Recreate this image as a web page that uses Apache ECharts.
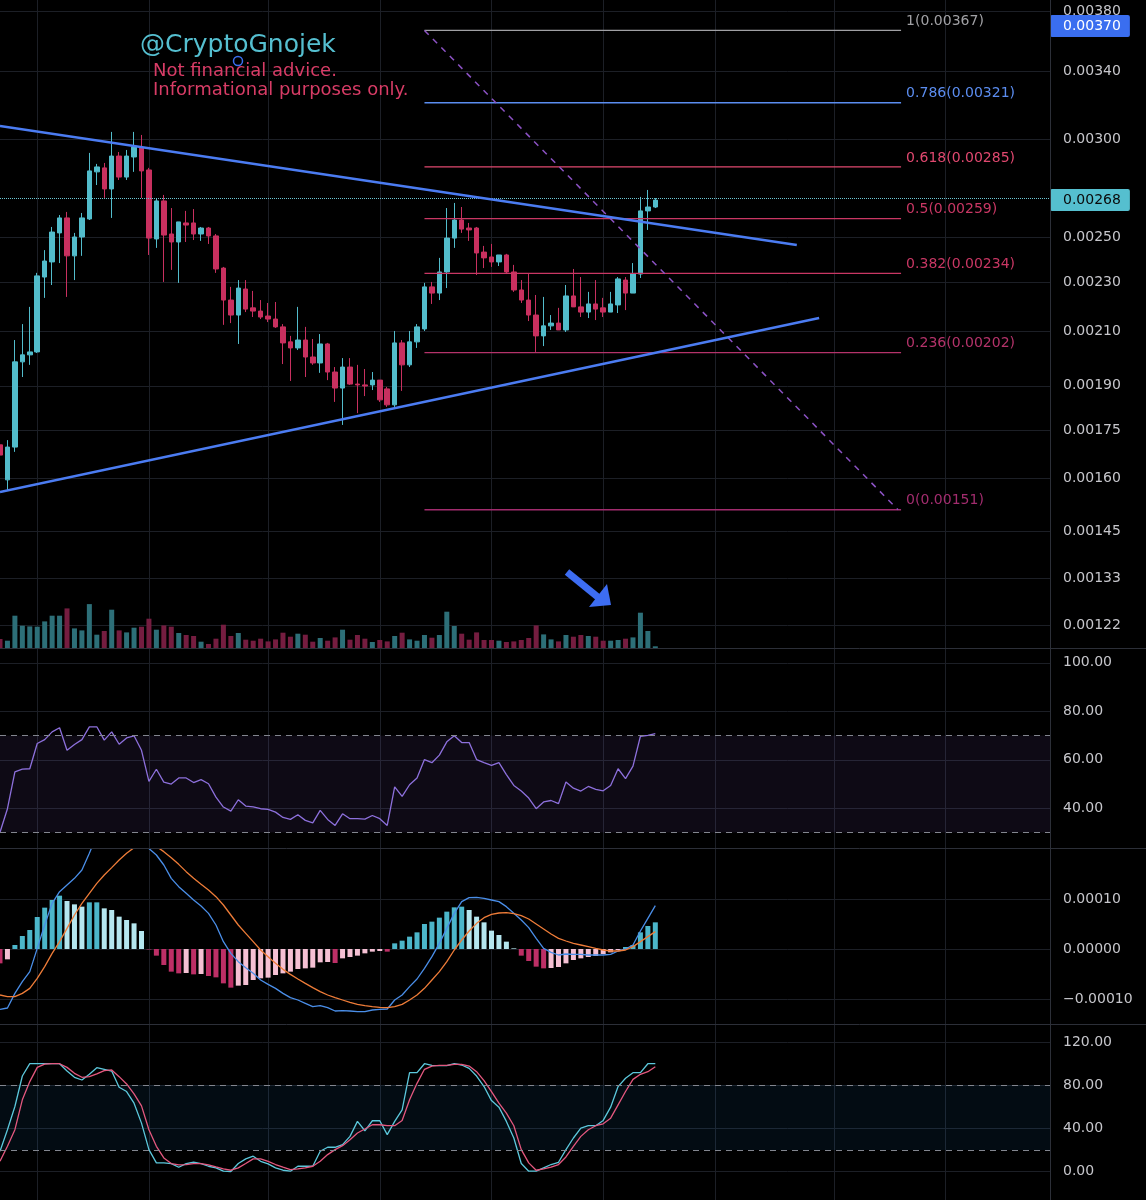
<!DOCTYPE html>
<html><head><meta charset="utf-8">
<script src="https://cdn.jsdelivr.net/npm/echarts@6/dist/echarts.min.js"></script>
<style>html,body{margin:0;padding:0;background:#000;}#c{width:1146px;height:1200px;}</style>
</head><body><div id="c"></div>
<script>
// ---------------- DATA ----------------
const opens = [0.001703,0.001596,0.001696,0.001986,0.002012,0.002023,0.002324,0.002390,0.002522,0.002593,
 0.002417,0.002503,0.002588,0.002824,0.002845,0.002736,0.002908,0.002797,0.002903,0.002952,
 0.002834,0.002494,0.002676,0.002517,0.002480,0.002569,0.002569,0.002517,0.002545,0.002508,
 0.002363,0.002227,0.002166,0.002273,0.002195,0.002182,0.002162,0.002150,0.002119,0.002061,
 0.002038,0.002068,0.002004,0.001982,0.002053,0.001949,0.001892,0.001967,0.001906,0.001903,
 0.001903,0.001920,0.001889,0.001834,0.002057,0.001975,0.002061,0.002111,0.002282,0.002256,
 0.002346,0.002498,0.002583,0.002545,0.002545,0.002434,0.002412,0.002390,0.002421,0.002346,
 0.002269,0.002227,0.002166,0.002084,0.002123,0.002134,0.002107,0.002244,0.002199,0.002178,
 0.002211,0.002195,0.002178,0.002207,0.002311,0.002256,0.002337,0.002627,0.002646];
const highs = [0.001718,0.001718,0.002068,0.002130,0.002199,0.002342,0.002443,0.002550,0.002607,0.002622,
 0.002522,0.002617,0.002925,0.002866,0.002871,0.003041,0.002930,0.002941,0.003041,0.003024,
 0.002845,0.002686,0.002706,0.002641,0.002574,0.002627,0.002636,0.002550,0.002550,0.002517,
 0.002368,0.002282,0.002311,0.002311,0.002265,0.002227,0.002215,0.002219,0.002130,0.002084,
 0.002199,0.002119,0.002072,0.002091,0.002057,0.001967,0.002000,0.002000,0.001975,0.001960,
 0.001949,0.001920,0.001896,0.002103,0.002068,0.002103,0.002130,0.002299,0.002303,0.002408,
 0.002641,0.002666,0.002646,0.002569,0.002550,0.002462,0.002471,0.002421,0.002426,0.002377,
 0.002311,0.002337,0.002248,0.002240,0.002166,0.002195,0.002290,0.002359,0.002324,0.002261,
 0.002311,0.002236,0.002261,0.002324,0.002324,0.002385,0.002696,0.002731,0.002690];
const lows = [0.001662,0.001566,0.001681,0.001931,0.001975,0.002019,0.002236,0.002290,0.002385,0.002240,
 0.002311,0.002417,0.002583,0.002756,0.002691,0.002593,0.002782,0.002782,0.002824,0.002691,
 0.002421,0.002453,0.002303,0.002355,0.002299,0.002480,0.002489,0.002485,0.002471,0.002342,
 0.002127,0.002134,0.002053,0.002178,0.002158,0.002150,0.002138,0.002115,0.001978,0.001917,
 0.002030,0.001931,0.001975,0.001946,0.001920,0.001844,0.001767,0.001903,0.001806,0.001864,
 0.001885,0.001844,0.001827,0.001827,0.001882,0.001967,0.002038,0.002103,0.002211,0.002227,
 0.002277,0.002453,0.002522,0.002485,0.002333,0.002363,0.002368,0.002372,0.002337,0.002261,
 0.002215,0.002142,0.002023,0.002045,0.002107,0.002107,0.002099,0.002199,0.002158,0.002154,
 0.002146,0.002158,0.002178,0.002174,0.002186,0.002256,0.002320,0.002536,0.002641];
const closes = [0.001671,0.001696,0.001986,0.002012,0.002023,0.002329,0.002394,0.002526,0.002593,0.002417,
 0.002503,0.002593,0.002829,0.002850,0.002736,0.002908,0.002797,0.002908,0.002957,0.002829,
 0.002498,0.002676,0.002512,0.002480,0.002574,0.002559,0.002517,0.002545,0.002508,0.002359,
 0.002227,0.002166,0.002277,0.002190,0.002182,0.002158,0.002150,0.002119,0.002057,0.002038,
 0.002068,0.002004,0.001982,0.002053,0.001949,0.001892,0.001967,0.001906,0.001903,0.001899,
 0.001920,0.001851,0.001834,0.002057,0.001975,0.002061,0.002119,0.002282,0.002256,0.002346,
 0.002498,0.002583,0.002540,0.002536,0.002430,0.002408,0.002390,0.002421,0.002346,0.002269,
 0.002227,0.002166,0.002084,0.002123,0.002134,0.002107,0.002244,0.002199,0.002178,0.002211,
 0.002190,0.002178,0.002211,0.002316,0.002256,0.002337,0.002627,0.002646,0.002680];
const volumes = [9.0,7.3,32.3,22.3,21.6,21.3,26.6,32.3,32.3,39.6,
 19.6,17.6,43.9,13.3,17,38.3,17.6,15.6,20.3,21.3,
 29.3,18.3,22.6,21.3,15,13,12,6.3,4,9.3,
 23.3,12,15,8.3,7.3,9.3,6.6,8.6,15.3,11.3,
 14.3,13.3,6.3,10,7.3,10.6,18.3,8.3,13,9.3,
 6,8,6.6,12,15.3,8.6,7.3,13,10.3,13,
 36.3,22,14.3,8.3,15.6,8,8,7.3,6,6.6,
 8,10,22.6,13.6,8.6,6.6,13,11.3,13,12,
 11.3,7.3,7.3,8,9.3,10.6,35.3,17,1.7];
const rsi = [30.1,39.8,55,56.1,56.3,66.7,68.3,71.5,73.2,63.9,
 66.3,68.3,73.6,73.6,68.1,71.5,66.4,69,69.9,63.9,
 51.1,56.1,50.8,50,52.5,52.5,50.6,51.8,50.1,44.6,
 40.5,38.8,43.5,40.9,40.6,39.8,39.5,38.4,36.2,35.4,
 37.3,35,34,39.1,35.4,32.9,37.7,35.7,35.7,35.5,
 37,35.7,32.9,48.8,44.9,49.7,52.5,60.1,58.8,61.9,
 67.4,69.9,67.1,67.1,60.1,58.8,57.7,58.8,53.9,49.4,
 47.1,44.2,39.8,42.6,43.2,41.9,50.8,48.3,47.1,49,
 47.8,47.2,49.4,56.3,52.2,57.4,69.7,70.1,70.8];
const macdLine = [-12.07e-5,-11.8e-5,-8.87e-5,-6.53e-5,-4.53e-5,0.13e-5,4.8e-5,9.13e-5,11.47e-5,12.8e-5,
 14.13e-5,15.8e-5,19.13e-5,22.8e-5,25e-5,26.5e-5,27e-5,26.5e-5,25e-5,23e-5,
 20.1e-5,18.8e-5,16.8e-5,14.13e-5,12.47e-5,11.13e-5,9.8e-5,8.6e-5,7.13e-5,4.8e-5,
 1.47e-5,-0.87e-5,-2.53e-5,-3.73e-5,-4.87e-5,-6.2e-5,-7.07e-5,-7.87e-5,-8.87e-5,-9.73e-5,
 -10.2e-5,-10.87e-5,-11.53e-5,-11.33e-5,-11.73e-5,-12.4e-5,-12.33e-5,-12.4e-5,-12.53e-5,-12.53e-5,
 -12.2e-5,-12.07e-5,-12.0e-5,-10.2e-5,-9.2e-5,-7.53e-5,-6.0e-5,-3.87e-5,-1.53e-5,1.13e-5,
 4.13e-5,7.13e-5,9.47e-5,10.27e-5,10.33e-5,10.13e-5,9.8e-5,9.47e-5,8.47e-5,7.13e-5,
 5.8e-5,4.27e-5,2.13e-5,0.13e-5,-0.67e-5,-1.2e-5,-1.0e-5,-1.07e-5,-1.07e-5,-1.2e-5,
 -1.2e-5,-1.2e-5,-1.07e-5,-0.4e-5,0,0.8e-5,3.6e-5,6.13e-5,8.67e-5];
const macdSignal = [-9.2e-5,-9.53e-5,-9.53e-5,-8.87e-5,-7.87e-5,-5.87e-5,-3.53e-5,-0.87e-5,1.47e-5,4.13e-5,
 6.8e-5,9.13e-5,11.13e-5,13.13e-5,14.8e-5,16.27e-5,17.8e-5,19.13e-5,20.27e-5,21e-5,
 21.2e-5,20.5e-5,19.47e-5,18.27e-5,16.93e-5,15.47e-5,14.13e-5,12.93e-5,11.8e-5,10.47e-5,
 8.8e-5,6.8e-5,4.8e-5,3.13e-5,1.47e-5,-0.2e-5,-1.53e-5,-2.87e-5,-4.07e-5,-5.07e-5,
 -6.0e-5,-6.87e-5,-7.73e-5,-8.53e-5,-9.2e-5,-9.73e-5,-10.2e-5,-10.67e-5,-11.07e-5,-11.33e-5,
 -11.53e-5,-11.67e-5,-11.73e-5,-11.53e-5,-11.07e-5,-10.2e-5,-9.2e-5,-7.87e-5,-6.2e-5,-4.53e-5,
 -2.53e-5,-0.2e-5,1.8e-5,3.6e-5,5.13e-5,6.27e-5,6.93e-5,7.2e-5,7.27e-5,7.07e-5,
 6.67e-5,6.0e-5,5.0e-5,4.0e-5,3.0e-5,2.13e-5,1.6e-5,1.13e-5,0.8e-5,0.47e-5,
 0.13e-5,-0.2e-5,-0.4e-5,-0.4e-5,-0.2e-5,0.47e-5,1.47e-5,2.47e-5,3.47e-5];
const macdHist = [-2.87e-5,-2.07e-5,0.8e-5,2.6e-5,3.8e-5,6.4e-5,8.27e-5,9.8e-5,10.67e-5,9.6e-5,
 8.93e-5,8.47e-5,9.33e-5,9.33e-5,8.13e-5,7.8e-5,6.47e-5,5.8e-5,5.13e-5,3.6e-5,
 -0.1e-5,-1.33e-5,-3.2e-5,-4.53e-5,-4.87e-5,-4.8e-5,-5.07e-5,-5.0e-5,-5.4e-5,-5.67e-5,
 -6.87e-5,-7.73e-5,-7.33e-5,-7.2e-5,-6.2e-5,-5.87e-5,-5.73e-5,-5.2e-5,-4.87e-5,-4.53e-5,
 -4.0e-5,-3.87e-5,-3.73e-5,-2.67e-5,-2.6e-5,-2.8e-5,-1.87e-5,-1.6e-5,-1.33e-5,-0.87e-5,
 -0.53e-5,-0.4e-5,-0.53e-5,1.13e-5,1.67e-5,2.47e-5,3.33e-5,5.0e-5,5.47e-5,6.27e-5,
 7.47e-5,8.33e-5,8.47e-5,7.8e-5,6.47e-5,5.33e-5,3.67e-5,2.8e-5,1.47e-5,0.13e-5,
 -1.33e-5,-2.4e-5,-3.53e-5,-3.87e-5,-3.8e-5,-3.6e-5,-2.87e-5,-2.2e-5,-1.87e-5,-1.6e-5,
 -1.4e-5,-1.0e-5,-0.67e-5,-0.2e-5,0.4e-5,0.8e-5,3.33e-5,4.6e-5,5.33e-5];
const stochK = [18.8,38.8,60.3,88.6,100,100,100,100,100,93.2,
 87.4,84.9,90.2,96.3,94.8,93.2,78.2,74.2,63.4,44.9,
 20.3,8,8,7.4,4,7.4,8.6,7.4,4.9,3.4,
 0.3,0,7.4,11.7,14.2,9.5,7.1,3.4,1.2,0.3,
 4.9,4.9,4.9,18.8,22.5,22.5,24.9,32.6,46.5,37.8,
 47.1,47.1,34.2,46.5,57.2,91.7,91.7,100,98.5,98.2,
 98.2,100,98.8,95.7,88.6,78.8,65.8,59.7,46.5,31.1,
 7.4,0.3,0.3,3.4,6.5,8.6,20.3,31.1,40.3,42.5,
 42.5,47.4,59.7,78.8,86.5,91.7,91.7,100,100];
const stochD = [9.5,23.4,38.8,66.5,83.4,96.6,99.7,100,100,96.6,
 91.1,87.4,88,90.5,93.5,94.2,88,81.2,72,60.9,
 38.8,23.4,12.6,7.4,6.2,6.5,7.4,7.4,6.2,4.3,
 2.5,1.2,3.4,7.4,11.7,11.7,9.5,6.5,4,1.8,
 2.5,3.4,4.9,9.5,15.7,20.3,24,29.5,35.7,39.4,
 43.4,43.4,42.5,42.5,47.4,66.5,81.8,94.8,97.8,98.5,
 98.5,99.4,99.4,97.8,92.6,84.3,74.2,63.4,54.2,42.5,
 20.3,8,1.2,2.5,4,6.5,13.5,23.4,32.6,38.8,
 42.5,44.3,49.5,61.8,74.2,85.5,90.2,92.6,97.2];
const priceTicks = [0.00380,0.00340,0.00300,0.00250,0.00230,0.00210,0.00190,0.00175,0.00160,0.00145,0.00133,0.00122];
const markerPrice = 0.00370;
const lastPrice = 0.00268;
const rsiTicks = [40,60,80,100];
const macdTicks = [-0.0001,0,0.0001];
const stochTicks = [0,40,80,120];
const fibRatios = ['1','0.786','0.618','0.5','0.382','0.236','0'];
const fibPrices = [0.00367,0.00321,0.00285,0.00259,0.00234,0.00202,0.00151];
const fibFromBar = 57, fibToBar = 121;
const upperTrend = [[0,0.0030743],[107,0.0024662]];
const lowerTrend = [[0,0.0015605],[110,0.0021542]];
const fibDiagonal = [[57,0.00367],[120.6,0.00151]];
const vGridBars = [5,20,36,51,66,81,96,112,127];
const N_SLOTS = 142;
const categories = Array.from({length:N_SLOTS},(_,i)=>String(i));

// ---------------- STYLE ----------------
const FONT = 'DejaVu Sans';
const UP='#52bccb', DOWN='#c8305f', VOL_UP='#2d6f78', VOL_DOWN='#751d40';
const GRID_LINE='#1c1f26', SEP='#2c2f38', LABEL='#c6c6cb';
const fibColors = ['#a0a0a4','#5b8df0','#e0486f','#c93764','#c93764','#b4336a','#a22c6e'];
const L = v => Math.log10(v);

const chart = echarts.init(document.getElementById('c'), null, {renderer:'canvas', width:1146, height:1200});

const splitX = {show:true, interval:(i)=>vGridBars.indexOf(i)>=0, lineStyle:{color:GRID_LINE,width:1}};
function catAxis(gi, split){
  return {type:'category', gridIndex:gi, data:categories, boundaryGap:false,
    axisLine:{show:false}, axisTick:{show:false}, axisLabel:{show:false},
    splitLine: split ? splitX : {show:false}};
}
function valAxis(gi, min, max, ticks, fmt){
  return {type:'value', gridIndex:gi, position:'right', min:min, max:max, scale:true,
    axisLine:{show:false}, axisTick:{show:false, customValues:ticks},
    axisLabel:{show:true, customValues:ticks, formatter:fmt, margin:13, color:LABEL, fontSize:14, fontFamily:FONT},
    splitLine:{show:true, lineStyle:{color:GRID_LINE,width:1}}};
}

const priceMax = 0.003883, priceMin = 0.0011688;
const priceAxis = {type:'value', gridIndex:0, position:'right', min:L(priceMin), max:L(priceMax), scale:true,
  axisLine:{show:false}, axisTick:{show:false, customValues:priceTicks.map(L)},
  axisLabel:{show:true, margin:0, customValues:priceTicks.map(L).concat([L(markerPrice), L(lastPrice)]),
    formatter:(v)=>{const p=Math.pow(10,v); const s=p.toFixed(5);
      if(Math.abs(p-markerPrice)<1e-8) return '{hl|'+s+'}';
      if(Math.abs(p-lastPrice)<1e-8) return '{lp|'+s+'}';
      return '{n|'+s+'}';},
    rich:{
      n:{color:LABEL, fontSize:14, fontFamily:FONT, padding:[0,0,0,13]},
      hl:{color:'#ffffff', fontSize:14, fontFamily:FONT, backgroundColor:'#3a6ef0', padding:[4,9,4,13], borderRadius:2},
      lp:{color:'#0a0a0a', fontSize:14, fontFamily:FONT, backgroundColor:'#55bfcf', padding:[4,9,4,13], borderRadius:2}
    }},
  splitLine:{show:true, lineStyle:{color:GRID_LINE,width:1}}};

const candleData = opens.map((o,i)=>[L(o), L(closes[i]), L(lows[i]), L(highs[i])]);
const volData = volumes.map((v,i)=>({value:v, itemStyle:{color: closes[i]>=opens[i]?VOL_UP:VOL_DOWN}}));
const histData = macdHist.map((h,i)=>{
  const prev = i>0 ? macdHist[i-1] : null;
  let c;
  if (h>=0) c = (prev===null || h>=prev) ? '#4cb6ca' : '#b5e6ef';
  else c = (prev===null || h<=prev) ? '#bd2f66' : '#f5c0d3';
  return {value:h, itemStyle:{color:c}};
});

const series = [];
series.push({type:'bar', name:'Volume', xAxisIndex:1, yAxisIndex:1, data:volData, barWidth:5, z:1, silent:true});
series.push({type:'candlestick', name:'Price', xAxisIndex:0, yAxisIndex:0, data:candleData, barWidth:5, z:3,
  itemStyle:{color:UP, color0:DOWN, borderColor:UP, borderColor0:DOWN, borderWidth:1},
  markLine:{silent:true, symbol:['none','none'], label:{show:false},
    lineStyle:{color:'#6cc6d3', type:'dotted', width:1}, data:[{yAxis:L(lastPrice)}]}});
fibPrices.forEach((p,k)=>{
  series.push({type:'line', name:'fib'+fibRatios[k], xAxisIndex:5, yAxisIndex:0, symbol:'none', z:5, silent:true,
    data:[[fibFromBar, L(p)],[fibToBar, L(p)]],
    lineStyle:{color:fibColors[k], width:1.3},
    markPoint:{symbol:'circle', symbolSize:0.1, itemStyle:{color:'rgba(0,0,0,0)'}, silent:true,
      label:{show:true, position:'right', distance:5, offset:[0,-9], formatter: fibRatios[k]+'('+p.toFixed(5)+')',
        color:fibColors[k], fontSize:14, fontFamily:FONT},
      data:[{coord:[fibToBar, L(p)]}]}
  });
});
series.push({type:'line', name:'diag', xAxisIndex:5, yAxisIndex:0, symbol:'none', z:5, silent:true,
  data:fibDiagonal.map(d=>[d[0], L(d[1])]), lineStyle:{color:'#8c52c4', width:1.5, type:[6,6]}});
[upperTrend, lowerTrend].forEach((t,k)=>{
  series.push({type:'line', name:'trend'+k, xAxisIndex:5, yAxisIndex:0, symbol:'none', z:6, silent:true,
    data:t.map(d=>[d[0], L(d[1])]), lineStyle:{color:'#4b7cf2', width:2.5}});
});
series.push({type:'line', name:'RSI', xAxisIndex:2, yAxisIndex:2, symbol:'none', data:rsi, z:4,
  lineStyle:{color:'#8d70dc', width:1.3},
  markArea:{silent:true, itemStyle:{color:'rgba(126,87,194,0.11)'}, data:[[{yAxis:30},{yAxis:70}]]},
  markLine:{silent:true, symbol:['none','none'], label:{show:false},
    lineStyle:{color:'#83868f', type:[6,5], width:1}, data:[{yAxis:70},{yAxis:30}]}});
series.push({type:'bar', name:'Histogram', xAxisIndex:3, yAxisIndex:3, data:histData, barWidth:5, z:2});
series.push({type:'line', name:'MACD', xAxisIndex:3, yAxisIndex:3, symbol:'none', data:macdLine, z:4,
  lineStyle:{color:'#4a8ee8', width:1.3}});
series.push({type:'line', name:'Signal', xAxisIndex:3, yAxisIndex:3, symbol:'none', data:macdSignal, z:4,
  lineStyle:{color:'#ee7c38', width:1.3}});
series.push({type:'line', name:'%K', xAxisIndex:4, yAxisIndex:4, symbol:'none', data:stochK, z:4,
  lineStyle:{color:'#5cc8dc', width:1.3},
  markArea:{silent:true, itemStyle:{color:'rgba(33,150,243,0.08)'}, data:[[{yAxis:20},{yAxis:80}]]},
  markLine:{silent:true, symbol:['none','none'], label:{show:false},
    lineStyle:{color:'#83868f', type:[6,5], width:1}, data:[{yAxis:80},{yAxis:20}]}});
series.push({type:'line', name:'%D', xAxisIndex:4, yAxisIndex:4, symbol:'none', data:stochD, z:4,
  lineStyle:{color:'#e4587f', width:1.3}});

const option = {
  backgroundColor:'#000000',
  animation:false,
  textStyle:{fontFamily:FONT},
  grid:[
    {left:0, top:0, width:1050, height:648, outerBoundsMode:'none'},
    {left:0, top:560, width:1050, height:88, outerBoundsMode:'none'},
    {left:0, top:649, width:1050, height:199, outerBoundsMode:'none'},
    {left:0, top:849, width:1050, height:175, outerBoundsMode:'none'},
    {left:0, top:1025, width:1050, height:175, outerBoundsMode:'none'}
  ],
  xAxis:[catAxis(0,true), catAxis(1,false), catAxis(2,true), catAxis(3,true), catAxis(4,true),
    {type:'value', gridIndex:0, min:0, max:N_SLOTS-1, show:false}],
  yAxis:[
    priceAxis,
    {type:'value', gridIndex:1, min:0, max:88, show:false, splitLine:{show:false}},
    valAxis(2, 23.6, 105.7, rsiTicks, v=>v.toFixed(2)),
    valAxis(3, -1.5e-4, 2.0e-4, macdTicks, v=>(v< -1e-12?'\u2212':'')+Math.abs(v).toFixed(5)),
    valAxis(4, -26.4, 135.9, stochTicks, v=>v.toFixed(2))
  ],
  series:series,
  graphic:[
    {type:'line', silent:true, z:50, shape:{x1:0,y1:648.5,x2:1146,y2:648.5}, style:{stroke:SEP,lineWidth:1}},
    {type:'line', silent:true, z:50, shape:{x1:0,y1:848.5,x2:1146,y2:848.5}, style:{stroke:SEP,lineWidth:1}},
    {type:'line', silent:true, z:50, shape:{x1:0,y1:1024.5,x2:1146,y2:1024.5}, style:{stroke:SEP,lineWidth:1}},
    {type:'line', silent:true, z:50, shape:{x1:1050.5,y1:0,x2:1050.5,y2:1200}, style:{stroke:SEP,lineWidth:1}},
    {type:'text', silent:true, z:60, x:140, y:45.5, style:{text:'@CryptoGnojek', fill:'#55bfd0', fontSize:25, fontFamily:FONT, verticalAlign:'middle'}},
    {type:'text', silent:true, z:60, x:153, y:71, style:{text:'Not financial advice.', fill:'#d83c66', fontSize:18, fontFamily:FONT, verticalAlign:'middle'}},
    {type:'text', silent:true, z:60, x:153, y:90.5, style:{text:'Informational purposes only.', fill:'#d83c66', fontSize:18, fontFamily:FONT, verticalAlign:'middle'}},
    {type:'circle', silent:true, z:60, shape:{cx:238,cy:61,r:4.5}, style:{fill:'none', stroke:'#3b6ef0', lineWidth:1.5}},
    {type:'line', silent:true, z:60, shape:{x1:567,y1:572,x2:599,y2:598}, style:{stroke:'#3d6df2', lineWidth:7}},
    {type:'polygon', silent:true, z:60, shape:{points:[[589,607],[611,605],[607,584]]}, style:{fill:'#3d6df2'}}
  ]
};
chart.setOption(option);
</script>
</body></html>
